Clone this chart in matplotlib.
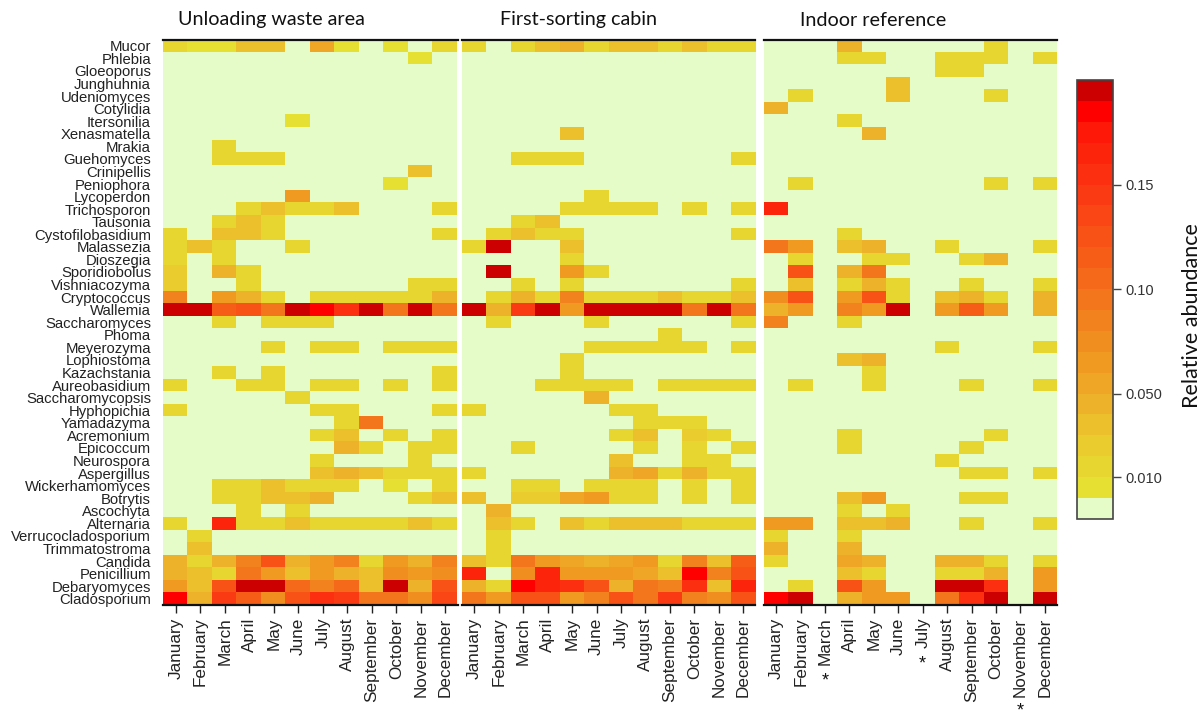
import numpy as np
import matplotlib
matplotlib.use("Agg")
import matplotlib.pyplot as plt
from matplotlib.colors import ListedColormap, BoundaryNorm
from matplotlib.colorbar import ColorbarBase
import matplotlib.transforms as mtransforms

genera = ["Mucor", "Phlebia", "Gloeoporus", "Junghuhnia", "Udeniomyces", "Cotylidia",
          "Itersonilia", "Xenasmatella", "Mrakia", "Guehomyces", "Crinipellis", "Peniophora",
          "Lycoperdon", "Trichosporon", "Tausonia", "Cystofilobasidium", "Malassezia",
          "Dioszegia", "Sporidiobolus", "Vishniacozyma", "Cryptococcus", "Wallemia",
          "Saccharomyces", "Phoma", "Meyerozyma", "Lophiostoma", "Kazachstania",
          "Aureobasidium", "Saccharomycopsis", "Hyphopichia", "Yamadazyma", "Acremonium",
          "Epicoccum", "Neurospora", "Aspergillus", "Wickerhamomyces", "Botrytis",
          "Ascochyta", "Alternaria", "Verrucocladosporium", "Trimmatostroma", "Candida",
          "Penicillium", "Debaryomyces", "Cladosporium"]

months = ["January", "February", "March", "April", "May", "June", "July", "August",
          "September", "October", "November", "December"]

panel_titles = ["Unloading waste area", "First-sorting cabin", "Indoor reference"]

# relative abundance, rows = genera (top to bottom), columns = months
unloading = [
    [0.015, 0.005, 0.005, 0.03, 0.03, 0, 0.05, 0.005, 0, 0.005, 0, 0.015],
    [0, 0, 0, 0, 0, 0, 0, 0, 0, 0, 0.005, 0],
    [0, 0, 0, 0, 0, 0, 0, 0, 0, 0, 0, 0],
    [0, 0, 0, 0, 0, 0, 0, 0, 0, 0, 0, 0],
    [0, 0, 0, 0, 0, 0, 0, 0, 0, 0, 0, 0],
    [0, 0, 0, 0, 0, 0, 0, 0, 0, 0, 0, 0],
    [0, 0, 0, 0, 0, 0.005, 0, 0, 0, 0, 0, 0],
    [0, 0, 0, 0, 0, 0, 0, 0, 0, 0, 0, 0],
    [0, 0, 0.01, 0, 0, 0, 0, 0, 0, 0, 0, 0],
    [0, 0, 0.01, 0.01, 0.01, 0, 0, 0, 0, 0, 0, 0],
    [0, 0, 0, 0, 0, 0, 0, 0, 0, 0, 0.03, 0],
    [0, 0, 0, 0, 0, 0, 0, 0, 0, 0.005, 0, 0],
    [0, 0, 0, 0, 0, 0.06, 0, 0, 0, 0, 0, 0],
    [0, 0, 0, 0.01, 0.03, 0.015, 0.01, 0.03, 0, 0, 0, 0.01],
    [0, 0, 0.015, 0.035, 0.015, 0, 0, 0, 0, 0, 0, 0],
    [0.01, 0, 0.03, 0.03, 0.01, 0, 0, 0, 0, 0, 0, 0.01],
    [0.015, 0.03, 0.01, 0, 0, 0.01, 0, 0, 0, 0, 0, 0],
    [0.015, 0, 0.015, 0, 0, 0, 0, 0, 0, 0, 0, 0],
    [0.025, 0, 0.045, 0.015, 0, 0, 0, 0, 0, 0, 0, 0],
    [0.025, 0, 0, 0.01, 0, 0, 0, 0, 0, 0, 0.015, 0.015],
    [0.085, 0, 0.06, 0.045, 0.015, 0, 0.015, 0.015, 0.015, 0.01, 0.015, 0.045],
    [0.195, 0.195, 0.11, 0.125, 0.09, 0.195, 0.185, 0.155, 0.195, 0.09, 0.195, 0.095],
    [0, 0, 0.01, 0, 0.015, 0.015, 0.01, 0, 0, 0, 0, 0],
    [0, 0, 0, 0, 0, 0, 0, 0, 0, 0, 0, 0],
    [0, 0, 0, 0, 0.01, 0, 0.01, 0.01, 0, 0.01, 0.01, 0.01],
    [0, 0, 0, 0, 0, 0, 0, 0, 0, 0, 0, 0],
    [0, 0, 0.01, 0, 0.01, 0, 0, 0, 0, 0, 0, 0.015],
    [0.01, 0, 0, 0.01, 0.01, 0, 0.01, 0.01, 0, 0.01, 0, 0.015],
    [0, 0, 0, 0, 0, 0.015, 0, 0, 0, 0, 0, 0],
    [0.01, 0, 0, 0, 0, 0, 0.015, 0.015, 0, 0, 0, 0.01],
    [0, 0, 0, 0, 0, 0, 0, 0.01, 0.09, 0, 0, 0],
    [0, 0, 0, 0, 0, 0, 0.01, 0.03, 0, 0.01, 0, 0.015],
    [0, 0, 0, 0, 0, 0, 0, 0.045, 0.015, 0, 0.015, 0.015],
    [0, 0, 0, 0, 0, 0, 0.015, 0, 0, 0, 0.015, 0],
    [0, 0, 0, 0, 0, 0, 0.03, 0.045, 0.03, 0.015, 0.015, 0.015],
    [0, 0, 0.015, 0.015, 0.03, 0.01, 0.01, 0.01, 0, 0.005, 0, 0.015],
    [0, 0, 0.015, 0.015, 0.03, 0.03, 0.045, 0, 0, 0, 0.015, 0.035],
    [0, 0, 0, 0.015, 0, 0.01, 0, 0, 0, 0, 0, 0],
    [0.01, 0, 0.16, 0.01, 0.01, 0.03, 0.01, 0.01, 0.01, 0.01, 0.03, 0.01],
    [0, 0.015, 0, 0, 0, 0, 0, 0, 0, 0, 0, 0],
    [0, 0.03, 0, 0, 0, 0, 0, 0, 0, 0, 0, 0],
    [0.045, 0.015, 0.045, 0.08, 0.12, 0.045, 0.06, 0.08, 0.01, 0.065, 0.045, 0.085],
    [0.045, 0.03, 0.015, 0.095, 0.065, 0.03, 0.06, 0.045, 0.03, 0.07, 0.065, 0.07],
    [0.06, 0.03, 0.125, 0.195, 0.195, 0.1, 0.085, 0.1, 0.03, 0.195, 0.045, 0.12],
    [0.18, 0.045, 0.145, 0.11, 0.07, 0.12, 0.15, 0.145, 0.095, 0.095, 0.07, 0.13],
]

first_sorting = [
    [0.015, 0, 0.01, 0.03, 0.045, 0.01, 0.03, 0.03, 0.01, 0.03, 0.01, 0.015],
    [0, 0, 0, 0, 0, 0, 0, 0, 0, 0, 0, 0],
    [0, 0, 0, 0, 0, 0, 0, 0, 0, 0, 0, 0],
    [0, 0, 0, 0, 0, 0, 0, 0, 0, 0, 0, 0],
    [0, 0, 0, 0, 0, 0, 0, 0, 0, 0, 0, 0],
    [0, 0, 0, 0, 0, 0, 0, 0, 0, 0, 0, 0],
    [0, 0, 0, 0, 0, 0, 0, 0, 0, 0, 0, 0],
    [0, 0, 0, 0, 0.03, 0, 0, 0, 0, 0, 0, 0],
    [0, 0, 0, 0, 0, 0, 0, 0, 0, 0, 0, 0],
    [0, 0, 0.015, 0.015, 0.01, 0, 0, 0, 0, 0, 0, 0.015],
    [0, 0, 0, 0, 0, 0, 0, 0, 0, 0, 0, 0],
    [0, 0, 0, 0, 0, 0, 0, 0, 0, 0, 0, 0],
    [0, 0, 0, 0, 0, 0.015, 0, 0, 0, 0, 0, 0],
    [0, 0, 0, 0, 0.01, 0.015, 0.01, 0.01, 0, 0.01, 0, 0.015],
    [0, 0, 0.015, 0.035, 0, 0, 0, 0, 0, 0, 0, 0],
    [0, 0.01, 0.035, 0.015, 0.015, 0, 0, 0, 0, 0, 0, 0.015],
    [0.015, 0.195, 0, 0, 0.03, 0, 0, 0, 0, 0, 0, 0],
    [0, 0, 0, 0, 0.015, 0, 0, 0, 0, 0, 0, 0],
    [0, 0.195, 0, 0, 0.065, 0.01, 0, 0, 0, 0, 0, 0],
    [0, 0, 0.01, 0, 0.015, 0, 0, 0, 0, 0, 0, 0.015],
    [0, 0.015, 0.045, 0.015, 0.085, 0.01, 0.015, 0.015, 0.03, 0.015, 0.015, 0.035],
    [0.195, 0.045, 0.14, 0.195, 0.06, 0.195, 0.195, 0.195, 0.195, 0.095, 0.195, 0.095],
    [0, 0.01, 0, 0, 0, 0.01, 0, 0, 0, 0, 0, 0.01],
    [0, 0, 0, 0, 0, 0, 0, 0, 0.01, 0, 0, 0],
    [0, 0, 0, 0, 0, 0.015, 0.015, 0.015, 0.01, 0.01, 0, 0.01],
    [0, 0, 0, 0, 0.015, 0, 0, 0, 0, 0, 0, 0],
    [0, 0, 0, 0, 0.01, 0, 0, 0, 0, 0, 0, 0],
    [0, 0, 0, 0.01, 0.015, 0.015, 0.015, 0, 0.015, 0.015, 0.015, 0.015],
    [0, 0, 0, 0, 0, 0.04, 0, 0, 0, 0, 0, 0],
    [0.01, 0, 0, 0, 0, 0, 0.01, 0.015, 0, 0, 0, 0],
    [0, 0, 0, 0, 0, 0, 0, 0.015, 0.015, 0.01, 0, 0],
    [0, 0, 0, 0, 0, 0, 0.015, 0.03, 0, 0.025, 0.015, 0],
    [0, 0, 0.015, 0, 0, 0, 0, 0.01, 0, 0.01, 0, 0.015],
    [0, 0, 0, 0, 0, 0, 0.03, 0, 0, 0.01, 0.01, 0],
    [0.01, 0, 0, 0, 0, 0, 0.04, 0.05, 0.015, 0.045, 0.015, 0.015],
    [0, 0, 0.01, 0.01, 0, 0.015, 0.01, 0.015, 0, 0.01, 0, 0.01],
    [0.03, 0, 0.025, 0.025, 0.05, 0.06, 0.015, 0.01, 0, 0.01, 0, 0.015],
    [0, 0.045, 0, 0, 0, 0, 0, 0, 0, 0, 0, 0],
    [0, 0.035, 0.015, 0, 0.03, 0.01, 0.03, 0.03, 0.03, 0.01, 0.01, 0.015],
    [0, 0.01, 0, 0, 0, 0, 0, 0, 0, 0, 0, 0],
    [0, 0.015, 0, 0, 0, 0, 0, 0, 0, 0, 0, 0],
    [0.035, 0.01, 0.095, 0.065, 0.05, 0.045, 0.05, 0.06, 0.01, 0.085, 0.03, 0.115],
    [0.165, 0, 0.07, 0.165, 0.065, 0.065, 0.06, 0.05, 0.03, 0.185, 0.08, 0.12],
    [0.045, 0.01, 0.185, 0.165, 0.15, 0.125, 0.045, 0.09, 0.08, 0.15, 0.03, 0.165],
    [0.09, 0.065, 0.12, 0.12, 0.065, 0.08, 0.12, 0.09, 0.145, 0.08, 0.07, 0.12],
]

indoor = [
    [0, 0, 0, 0.045, 0, 0, 0, 0, 0, 0.01, 0, 0],
    [0, 0, 0, 0.01, 0.01, 0, 0, 0.015, 0.015, 0.01, 0, 0.015],
    [0, 0, 0, 0, 0, 0, 0, 0.015, 0.015, 0, 0, 0],
    [0, 0, 0, 0, 0, 0.03, 0, 0, 0, 0, 0, 0],
    [0, 0.01, 0, 0, 0, 0.03, 0, 0, 0, 0.01, 0, 0],
    [0.045, 0, 0, 0, 0, 0, 0, 0, 0, 0, 0, 0],
    [0, 0, 0, 0.015, 0, 0, 0, 0, 0, 0, 0, 0],
    [0, 0, 0, 0, 0.045, 0, 0, 0, 0, 0, 0, 0],
    [0, 0, 0, 0, 0, 0, 0, 0, 0, 0, 0, 0],
    [0, 0, 0, 0, 0, 0, 0, 0, 0, 0, 0, 0],
    [0, 0, 0, 0, 0, 0, 0, 0, 0, 0, 0, 0],
    [0, 0.015, 0, 0, 0, 0, 0, 0, 0, 0.015, 0, 0.015],
    [0, 0, 0, 0, 0, 0, 0, 0, 0, 0, 0, 0],
    [0.165, 0, 0, 0, 0, 0, 0, 0, 0, 0, 0, 0],
    [0, 0, 0, 0, 0, 0, 0, 0, 0, 0, 0, 0],
    [0, 0, 0, 0.01, 0, 0, 0, 0, 0, 0, 0, 0],
    [0.09, 0.065, 0, 0.03, 0.045, 0, 0, 0.01, 0, 0, 0, 0.015],
    [0, 0.015, 0, 0, 0.015, 0.015, 0, 0, 0.01, 0.045, 0, 0],
    [0, 0.125, 0, 0.045, 0.09, 0, 0, 0, 0, 0, 0, 0],
    [0, 0.03, 0, 0.015, 0.04, 0.01, 0, 0, 0.01, 0, 0, 0.015],
    [0.075, 0.125, 0, 0.065, 0.125, 0.01, 0, 0.03, 0.045, 0.01, 0, 0.045],
    [0.04, 0.065, 0, 0.085, 0.065, 0.195, 0, 0.06, 0.11, 0.065, 0, 0.045],
    [0.085, 0, 0, 0.01, 0, 0, 0, 0, 0, 0, 0, 0],
    [0, 0, 0, 0, 0, 0, 0, 0, 0, 0, 0, 0],
    [0, 0, 0, 0, 0, 0, 0, 0.015, 0, 0, 0, 0.015],
    [0, 0, 0, 0.03, 0.045, 0, 0, 0, 0, 0, 0, 0],
    [0, 0, 0, 0, 0.01, 0, 0, 0, 0, 0, 0, 0],
    [0, 0.01, 0, 0, 0.015, 0, 0, 0, 0.01, 0, 0, 0.01],
    [0, 0, 0, 0, 0, 0, 0, 0, 0, 0, 0, 0],
    [0, 0, 0, 0, 0, 0, 0, 0, 0, 0, 0, 0],
    [0, 0, 0, 0, 0, 0, 0, 0, 0, 0, 0, 0],
    [0, 0, 0, 0.015, 0, 0, 0, 0, 0, 0.01, 0, 0],
    [0, 0, 0, 0.015, 0, 0, 0, 0, 0.01, 0, 0, 0],
    [0, 0, 0, 0, 0, 0, 0, 0.015, 0, 0, 0, 0],
    [0, 0, 0, 0, 0, 0, 0, 0, 0.01, 0.015, 0, 0.015],
    [0, 0, 0, 0, 0, 0, 0, 0, 0, 0, 0, 0],
    [0, 0, 0, 0.03, 0.06, 0, 0, 0, 0.01, 0.015, 0, 0],
    [0, 0, 0, 0.01, 0, 0.01, 0, 0, 0, 0, 0, 0],
    [0.06, 0.06, 0, 0.03, 0.03, 0.04, 0, 0, 0.01, 0, 0, 0.015],
    [0.015, 0, 0, 0.015, 0, 0, 0, 0, 0, 0, 0, 0],
    [0.045, 0, 0, 0.045, 0, 0, 0, 0, 0, 0, 0, 0],
    [0.015, 0, 0, 0.055, 0.045, 0, 0, 0.045, 0.045, 0.015, 0, 0.015],
    [0, 0, 0, 0.03, 0.015, 0, 0, 0.015, 0.015, 0.045, 0, 0.065],
    [0, 0.01, 0, 0.125, 0.065, 0, 0, 0.195, 0.195, 0.15, 0, 0.06],
    [0.185, 0.195, 0, 0.045, 0.065, 0.06, 0, 0.095, 0.15, 0.195, 0, 0.195],
]

# months with no indoor sample (marked with asterisks)
missing_months = ["March", "July", "November"]

cbar_ticks = [0.01, 0.05, 0.10, 0.15]
cbar_ticklabels = ["0.010", "0.050", "0.10", "0.15"]

# ---------------------------------------------------------------- styling
zero_color = "#e5fbc8"
band_colors = ["#e6e032", "#e8d630", "#eacc2e", "#ecc02c", "#eeb22a", "#efa626",
               "#f09a22", "#f18e20", "#f2821e", "#f4761c", "#f56a1a", "#f65e18",
               "#f85216", "#f94614", "#fa3a12", "#fc3010", "#fd240c", "#fe1808",
               "#ff0000", "#cc0000"]
boundaries = [-0.01] + [round(0.01 * i, 3) for i in range(21)]
cmap = ListedColormap([zero_color] + band_colors)
norm = BoundaryNorm(boundaries, cmap.N)

W, H = 1201, 715
fig = plt.figure(figsize=(W / 100, H / 100), dpi=100)


def rect(x0, x1, y0, y1):
    return [x0 / W, 1 - y1 / H, (x1 - x0) / W, (y1 - y0) / H]


label_font = "Liberation Sans"
title_font = "Lato"
txt_color = "#222222"

panels = [unloading, first_sorting, indoor]
extents = [(163.5, 457.5), (462, 755.5), (764, 1057)]
title_x = [178, 500, 800]
axes = []
for k, (data, (x0, x1)) in enumerate(zip(panels, extents)):
    ax = fig.add_axes(rect(x0, x1, 39.5, 605))
    arr = np.array(data, dtype=float)
    disp = np.where(arr == 0, -0.005, arr)
    ax.imshow(disp, cmap=cmap, norm=norm, aspect="auto", interpolation="nearest",
              extent=(-0.5, len(months) - 0.5, len(genera) - 0.5, -0.5))
    ax.set_xlim(-0.5, len(months) - 0.5)
    ax.set_ylim(len(genera) - 0.5, -0.5)
    for s in ["left", "right"]:
        ax.spines[s].set_visible(False)
    for s in ["top", "bottom"]:
        ax.spines[s].set_linewidth(1.6)
        ax.spines[s].set_color("#111111")
    ax.set_xticks(range(len(months)))
    ax.set_xticklabels(months, rotation=90, fontsize=12.3, family=label_font, color=txt_color)
    ax.tick_params(axis="x", direction="out", length=6, width=1, pad=3, color="#222222")
    if k == 0:
        ax.set_yticks(range(len(genera)))
        ax.set_yticklabels(genera, fontsize=10.7, family=label_font, color=txt_color)
        ax.tick_params(axis="y", length=0, pad=9)
    else:
        ax.set_yticks([])
    fig.text(title_x[k] / W, 1 - 20 / H, panel_titles[k], ha="left", va="center",
             fontsize=14.2, family=title_font, color="#111111")
    axes.append(ax)

# colorbar
cax = fig.add_axes(rect(1077, 1113, 80, 519))
cb = ColorbarBase(cax, cmap=cmap, norm=norm, boundaries=boundaries,
                  spacing="proportional", orientation="vertical")
cb.set_ticks(cbar_ticks)
cb.set_ticklabels(cbar_ticklabels)
cb.minorticks_off()
cb.outline.set_edgecolor("#444444")
cb.outline.set_linewidth(1.2)
cax.tick_params(length=6, width=1, color="#444444", labelsize=10.5, pad=3)
for t in cax.get_yticklabels():
    t.set_family(label_font)
    t.set_color("#333333")
fig.text(1192 / W, 1 - 316 / H, "Relative abundance", rotation=90, ha="center",
         va="center", fontsize=15.5, family=title_font, color="#111111")

# asterisks marking missing indoor months, placed just below their month label
fig.canvas.draw()
renderer = fig.canvas.get_renderer()
ax3 = axes[2]
trans = mtransforms.blended_transform_factory(ax3.transData, fig.transFigure)
ticklabels = ax3.get_xticklabels()
for m in missing_months:
    bb = ticklabels[months.index(m)].get_window_extent(renderer)
    y_px = max(bb.y0 - 7, 13)
    ax3.text(months.index(m), y_px / fig.bbox.height, "*", transform=trans, ha="center",
             va="top", fontsize=13, color="#111111", family=label_font)

fig.savefig("out.png", dpi=100)
